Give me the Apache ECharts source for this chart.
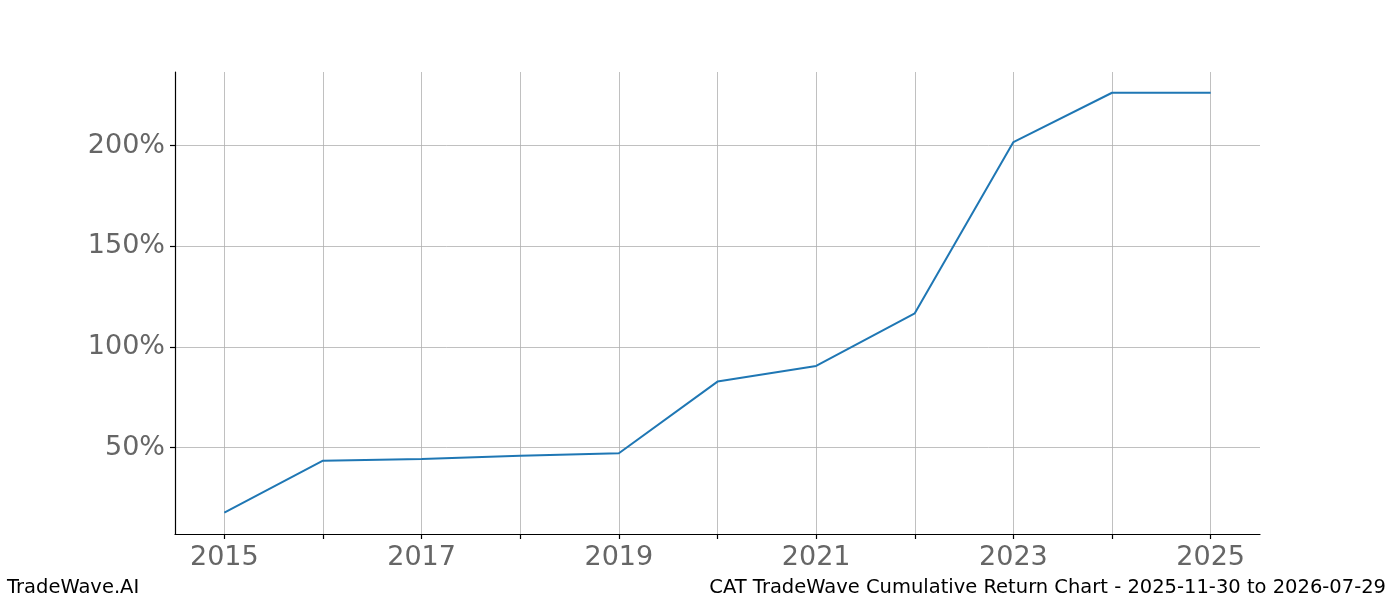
<!DOCTYPE html>
<html>
<head>
<meta charset="utf-8">
<script src="https://cdn.jsdelivr.net/npm/echarts@6/dist/echarts.min.js"></script>
<style>
html,body{margin:0;padding:0;background:#fff;}
#chart{width:1400px;height:600px;}
</style>
</head>
<body>
<div id="chart"></div>
<script>
const years = ['2015','2016','2017','2018','2019','2020','2021','2022','2023','2024','2025'];
const cumulativeReturn = [17.7, 43.5, 44.4, 46.0, 47.2, 82.8, 90.6, 116.7, 201.8, 226.3, 226.3];
const yTicks = [50, 100, 150, 200];
const yMin = 7.1;
const yMax = 236.6;
const footerLeft = 'TradeWave.AI';
const footerRight = 'CAT TradeWave Cumulative Return Chart - 2025-11-30 to 2026-07-29';

const chart = echarts.init(document.getElementById('chart'), null, {renderer: 'canvas'});
const font = 'DejaVu Sans';
chart.setOption({
  animation: false,
  backgroundColor: '#ffffff',
  grid: {left: 175, right: 140, top: 72, bottom: 66, containLabel: false},
  xAxis: {
    type: 'category',
    data: years,
    boundaryGap: true,
    axisLine: {show: true, onZero: false, lineStyle: {color: '#000', width: 1.2}},
    axisTick: {show: true, alignWithLabel: true, interval: 0, length: 5, lineStyle: {color: '#000', width: 1.2}},
    axisLabel: {interval: 1, color: '#666666', fontSize: 27, fontFamily: font, margin: 10},
    splitLine: {show: true, alignWithLabel: true, interval: 0, lineStyle: {color: '#b0b0b0', width: 0.8}}
  },
  yAxis: {
    type: 'value',
    min: yMin,
    max: yMax,
    axisLine: {show: true, lineStyle: {color: '#000', width: 1.2}},
    axisTick: {show: true, customValues: yTicks, length: 5, lineStyle: {color: '#000', width: 1.2}},
    axisLabel: {customValues: yTicks, formatter: '{value}%', color: '#666666', fontSize: 27, fontFamily: font, margin: 10, padding: [4, 0, 0, 0]},
    splitLine: {show: true, lineStyle: {color: '#b0b0b0', width: 0.8}}
  },
  series: [{
    type: 'line',
    data: cumulativeReturn,
    showSymbol: false,
    symbol: 'none',
    lineStyle: {color: '#1f77b4', width: 2},
    itemStyle: {color: '#1f77b4'}
  }],
  graphic: [
    {type: 'text', left: 7, top: 578, style: {text: footerLeft, font: '19.5px "DejaVu Sans"', fill: '#000'}},
    {type: 'text', right: 14, top: 578, style: {text: footerRight, font: '19.5px "DejaVu Sans"', fill: '#000'}}
  ]
});
</script>
</body>
</html>
